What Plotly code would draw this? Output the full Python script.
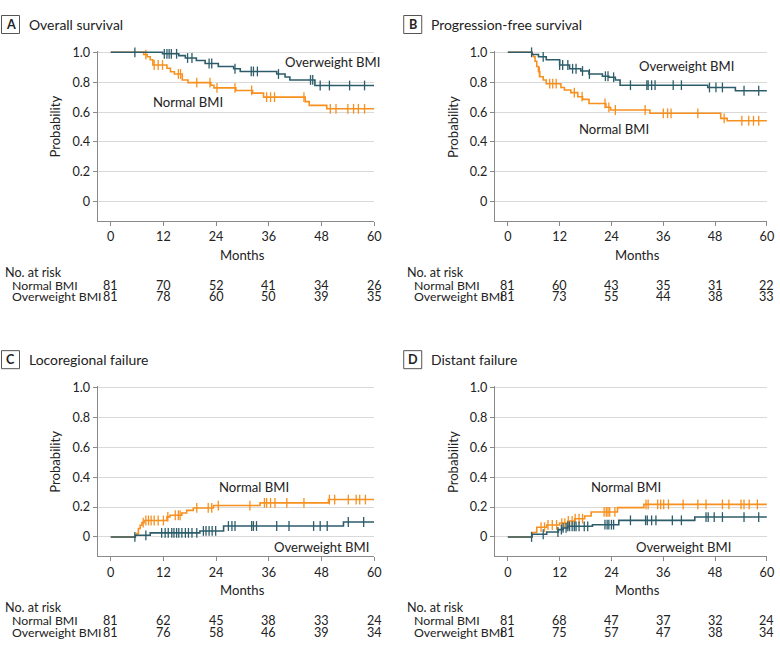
import plotly.graph_objects as go

W, H = 780, 665
ORANGE = "#F7901E"
TEAL = "#2D5D6A"
FONT = "Lato, 'Open Sans', sans-serif"
TXT = "#222222"

month_ticks = [0, 12, 24, 36, 48, 60]
prob_ticks = [0, 0.2, 0.4, 0.6, 0.8, 1.0]
prob_labels = ["0", "0.2", "0.4", "0.6", "0.8", "1.0"]
group_names = ["Normal BMI", "Overweight BMI"]
panel_letters = ["A", "B", "C", "D"]
panel_titles = ["Overall survival", "Progression-free survival",
                "Locoregional failure", "Distant failure"]

# ---- A: overall survival
os_normal_t = [0, 7.5, 8.3, 9.0, 9.6, 12.8, 13.6, 14.5, 16.3, 17.6, 22.8, 23.5, 28.5, 32.3, 34.8, 44.3, 45.2, 49.2]
os_normal_s = [1.0, 0.985, 0.97, 0.95, 0.915, 0.893, 0.87, 0.855, 0.815, 0.797, 0.78, 0.762, 0.745, 0.727, 0.70, 0.67, 0.645, 0.622]
os_normal_cens = [8.0, 9.9, 10.8, 11.8, 15.4, 15.9, 19.6, 22.6, 24.2, 28.3, 32.1, 35.5, 36.4, 37.3, 44.0, 50.0, 51.3, 54.0, 55.3, 56.4, 57.8]
os_over_t = [0, 11.8, 15.5, 17.0, 19.5, 21.5, 24.5, 28.0, 29.5, 37.8, 39.7, 40.8, 46.5]
os_over_s = [1.0, 0.99, 0.978, 0.962, 0.945, 0.925, 0.905, 0.89, 0.872, 0.855, 0.835, 0.815, 0.778]
os_over_cens = [5.5, 12.2, 12.8, 13.3, 13.8, 15.0, 17.5, 18.5, 22.4, 23.0, 28.3, 32.0, 32.5, 33.4, 38.2, 45.5, 46.0, 47.7, 49.8, 54.4, 57.8]

# ---- B: progression-free survival
pfs_normal_t = [0, 5.6, 5.9, 6.3, 6.7, 7.1, 7.4, 8.2, 8.9, 12.3, 13.1, 14.6, 16.2, 17.3, 18.8, 22.7, 23.8, 32.9, 49.3, 50.8]
pfs_normal_s = [1.0, 0.985, 0.97, 0.94, 0.905, 0.87, 0.837, 0.815, 0.79, 0.765, 0.748, 0.73, 0.703, 0.685, 0.658, 0.632, 0.614, 0.592, 0.558, 0.542]
pfs_normal_cens = [7.3, 9.7, 10.4, 11.2, 15.4, 17.2, 22.5, 23.4, 24.9, 31.8, 36.0, 37.0, 37.8, 44.0, 50.1, 54.2, 55.8, 56.9, 58.1]
pfs_over_t = [0, 5.6, 7.1, 8.9, 12.0, 14.3, 16.9, 18.8, 21.9, 23.4, 24.9, 26.0, 46.3, 52.7]
pfs_over_s = [1.0, 0.985, 0.97, 0.95, 0.915, 0.89, 0.875, 0.855, 0.84, 0.833, 0.815, 0.78, 0.765, 0.743]
pfs_over_cens = [5.5, 8.2, 12.0, 12.7, 13.9, 15.0, 15.8, 17.3, 18.9, 22.6, 23.2, 24.5, 28.4, 32.2, 32.5, 33.3, 34.1, 38.3, 40.2, 46.7, 48.2, 49.7, 54.7, 58.1]

# ---- C: locoregional failure
lrf_normal_t = [0, 5.6, 5.9, 6.3, 6.7, 7.1, 7.6, 12.8, 13.5, 16.2, 17.3, 18.8, 23.4, 34.0, 49.6]
lrf_normal_s = [0, 0.012, 0.022, 0.056, 0.078, 0.096, 0.11, 0.134, 0.145, 0.16, 0.178, 0.194, 0.21, 0.228, 0.25]
lrf_normal_cens = [7.4, 8.0, 8.6, 9.2, 9.9, 10.8, 12.0, 13.0, 14.7, 15.4, 15.8, 19.6, 22.2, 23.0, 24.5, 31.7, 35.0, 35.5, 36.4, 37.4, 40.1, 44.0, 49.8, 51.0, 54.1, 55.9, 56.7, 58.0]
lrf_over_t = [0, 5.6, 9.0, 20.3, 25.7, 53.0]
lrf_over_s = [0, 0.011, 0.027, 0.04, 0.073, 0.1]
lrf_over_cens = [5.5, 8.0, 11.6, 12.4, 13.1, 13.9, 14.4, 15.0, 15.5, 16.2, 17.0, 17.7, 18.5, 19.6, 21.1, 21.7, 22.4, 23.1, 23.9, 26.8, 27.6, 28.3, 32.1, 32.5, 33.2, 37.8, 40.6, 46.2, 47.7, 49.3, 54.1, 57.6]

# ---- D: distant failure
dist_normal_t = [0, 5.6, 6.7, 9.0, 12.0, 13.9, 15.5, 17.8, 19.3, 25.4, 31.5]
dist_normal_s = [0, 0.03, 0.065, 0.08, 0.093, 0.107, 0.122, 0.14, 0.167, 0.196, 0.218]
dist_normal_cens = [7.7, 8.5, 9.3, 10.3, 11.3, 12.5, 13.2, 14.0, 14.9, 15.6, 16.5, 17.3, 22.3, 22.8, 23.2, 23.6, 24.8, 32.0, 32.5, 34.7, 35.4, 36.1, 37.2, 40.6, 44.0, 45.9, 49.7, 51.2, 54.0, 54.7, 55.9, 57.8]
dist_over_t = [0, 5.6, 9.0, 11.7, 12.8, 13.9, 19.6, 25.7, 43.3]
dist_over_s = [0, 0.018, 0.033, 0.049, 0.06, 0.071, 0.082, 0.111, 0.133]
dist_over_cens = [5.5, 8.2, 11.6, 12.4, 12.8, 13.5, 13.9, 14.3, 14.9, 15.4, 15.8, 16.5, 17.7, 18.5, 22.5, 23.0, 23.4, 24.0, 24.5, 28.4, 31.9, 32.3, 33.3, 34.3, 38.1, 40.2, 45.9, 46.4, 47.8, 49.7, 54.7, 58.1]

# ---- numbers at risk
risk_A_normal = [81, 70, 52, 41, 34, 26]
risk_A_over = [81, 78, 60, 50, 39, 35]
risk_B_normal = [81, 60, 43, 35, 31, 22]
risk_B_over = [81, 73, 55, 44, 38, 33]
risk_C_normal = [81, 62, 45, 38, 33, 24]
risk_C_over = [81, 76, 58, 46, 39, 34]
risk_D_normal = [81, 68, 47, 37, 32, 24]
risk_D_over = [81, 75, 57, 47, 38, 34]

panels = [
    (os_normal_t, os_normal_s, os_normal_cens, os_over_t, os_over_s, os_over_cens, risk_A_normal, risk_A_over),
    (pfs_normal_t, pfs_normal_s, pfs_normal_cens, pfs_over_t, pfs_over_s, pfs_over_cens, risk_B_normal, risk_B_over),
    (lrf_normal_t, lrf_normal_s, lrf_normal_cens, lrf_over_t, lrf_over_s, lrf_over_cens, risk_C_normal, risk_C_over),
    (dist_normal_t, dist_normal_s, dist_normal_cens, dist_over_t, dist_over_s, dist_over_cens, risk_D_normal, risk_D_over),
]

# curve label positions (data coords)
label_pos = [
    [(17.6, 0.669), (50.4, 0.933)],
    [(24.7, 0.485), (41.4, 0.910)],
    [(32.6, 0.331), (48.1, -0.067)],
    [(27.4, 0.331), (40.6, -0.067)],
]

# layout geometry in target-picture pixels
XDOM_PX = [(97.5, 374.0), (494.6, 766.5), (97.5, 374.0), (494.6, 766.5)]
YDOM_PX = [(50.8, 221.1), (50.8, 221.1), (385.8, 556.1), (385.8, 556.1)]
TOP_PX = [0, 0, 335, 335]   # vertical offset of panel rows
LEFT_PX = [0, 402, 0, 402]

# measured page-capture mapping: picture = OFF + S * figure
S = 0.9905
OFF_Y = 6.0


def fx(p):
    return p / S


def fy(p):
    return (p - OFF_Y) / S


def px_x(p):
    return fx(p) / W


def px_y(p):
    return 1 - fy(p) / H


def fs(size):
    return size / S


def step_value(ts, ss, c):
    v = ss[0]
    for t, s in zip(ts, ss):
        if t <= c:
            v = s
    return v


fig = go.Figure()
annotations = []
shapes = []
layout = {}
colors = [ORANGE, TEAL]

for i, (nt, ns, nc, ot, os_, oc, rn, ro) in enumerate(panels):
    k = i + 1
    xa = "x" if k == 1 else f"x{k}"
    ya = "y" if k == 1 else f"y{k}"
    for g, (ts, ss, cs) in enumerate([(nt, ns, nc), (ot, os_, oc)]):
        xs = list(ts) + [60]
        ys = list(ss) + [ss[-1]]
        fig.add_trace(go.Scatter(
            x=xs, y=ys, mode="lines", line=dict(color=colors[g], width=1.6, shape="hv"),
            xaxis=xa, yaxis=ya, showlegend=False, hoverinfo="skip", cliponaxis=False))
        fig.add_trace(go.Scatter(
            x=cs, y=[step_value(ts, ss, c) for c in cs], mode="markers",
            marker=dict(symbol="line-ns", size=7, line=dict(color=colors[g], width=1.3)),
            xaxis=xa, yaxis=ya, showlegend=False, hoverinfo="skip", cliponaxis=False))
    x0, x1 = XDOM_PX[i]
    yt, yb = YDOM_PX[i]
    layout[f"xaxis{k}"] = dict(
        domain=[px_x(x0), px_x(x1)], range=[-3, 60], anchor=ya,
        tickvals=month_ticks, ticks="outside", ticklen=4, tickcolor="#8a8a8a",
        showline=True, linecolor="#8a8a8a", linewidth=1, showgrid=False, zeroline=False,
        tickfont=dict(family=FONT, size=fs(12.5), color=TXT), fixedrange=True)
    layout[f"yaxis{k}"] = dict(
        domain=[px_y(yb), px_y(yt)], range=[-0.13, 1.01], anchor=xa,
        tickvals=prob_ticks, ticktext=prob_labels, ticks="outside", ticklen=4,
        tickcolor="#8a8a8a", showline=True, linecolor="#8a8a8a", linewidth=1,
        showgrid=True, gridcolor="#d9d9d9", gridwidth=1, zeroline=False,
        tickfont=dict(family=FONT, size=fs(12.5), color=TXT), fixedrange=True)

    top = TOP_PX[i]
    left = LEFT_PX[i]
    # panel letter box & title
    shapes.append(dict(type="rect", xref="paper", yref="paper",
                       x0=px_x(left + 1.5), x1=px_x(left + 19.5),
                       y0=px_y(top + 33.5), y1=px_y(top + 15.5),
                       line=dict(color="#555555", width=1)))
    annotations.append(dict(x=px_x(left + 10.5), y=px_y(top + 24.5), xref="paper", yref="paper",
                            text=f"<b>{panel_letters[i]}</b>", showarrow=False,
                            font=dict(family=FONT, size=fs(12.5), color=TXT),
                            xanchor="center", yanchor="middle"))
    annotations.append(dict(x=px_x(left + 26.5), y=px_y(top + 24.5), xref="paper", yref="paper",
                            text=panel_titles[i], showarrow=False,
                            font=dict(family=FONT, size=fs(13.8), color=TXT),
                            xanchor="left", yanchor="middle"))
    # y title
    annotations.append(dict(x=px_x(x0 - 42), y=px_y((yt + 1.5 + yb - 19.4) / 2),
                            xref="paper", yref="paper", text="Probability", showarrow=False,
                            textangle=-90, font=dict(family=FONT, size=fs(13), color=TXT),
                            xanchor="center", yanchor="middle"))
    # x title
    annotations.append(dict(x=30, y=px_y(top + 255), xref=xa, yref="paper",
                            text="Months", showarrow=False,
                            font=dict(family=FONT, size=fs(13), color=TXT),
                            xanchor="center", yanchor="middle"))
    # curve labels
    for g in range(2):
        lx, ly = label_pos[i][g]
        annotations.append(dict(x=lx, y=ly, xref=xa, yref=ya, text=group_names[g],
                                showarrow=False, font=dict(family=FONT, size=fs(13), color=TXT),
                                xanchor="center", yanchor="middle"))
    # risk table
    annotations.append(dict(x=px_x(left + 2.5), y=px_y(top + 272.7), xref="paper", yref="paper",
                            text="No. at risk", showarrow=False,
                            font=dict(family=FONT, size=fs(12.5), color=TXT),
                            xanchor="left", yanchor="middle"))
    for g, row in enumerate([rn, ro]):
        ry = top + 285 + g * 11.7
        annotations.append(dict(x=px_x(left + 10), y=px_y(ry), xref="paper", yref="paper",
                                text=group_names[g], showarrow=False,
                                font=dict(family=FONT, size=fs(12.2), color=TXT),
                                xanchor="left", yanchor="middle"))
        for m, n in zip(month_ticks, row):
            annotations.append(dict(x=m, y=px_y(ry), xref=xa, yref="paper", text=str(n),
                                    showarrow=False, font=dict(family=FONT, size=fs(12.5), color=TXT),
                                    xanchor="center", yanchor="middle"))

fig.update_layout(
    width=W, height=H, margin=dict(l=0, r=0, t=0, b=0),
    paper_bgcolor="white", plot_bgcolor="white",
    annotations=annotations, shapes=shapes, showlegend=False,
    font=dict(family=FONT, color=TXT), **layout)

POST = "document.body.style.margin='0';document.body.style.overflow='hidden';"

fig.write_html("out.html", config={"displayModeBar": False}, post_script=POST)
